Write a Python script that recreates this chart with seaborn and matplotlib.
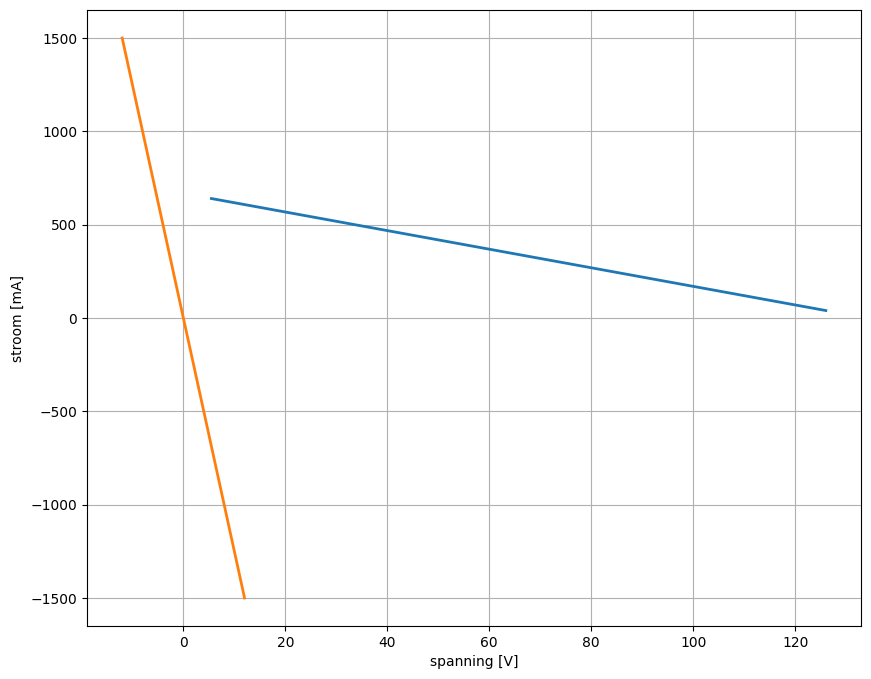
import numpy as np
import pandas as pd
import matplotlib
matplotlib.use('Agg')
import matplotlib.pyplot as plt
import seaborn as sns

# data
spanning_blauw = [5.5, 126.0]
stroom_blauw = [640, 40]
spanning_oranje = [-12.0, 12.0]
stroom_oranje = [1500, -1500]

df_blauw = pd.DataFrame({'spanning': spanning_blauw, 'stroom': stroom_blauw})
df_oranje = pd.DataFrame({'spanning': spanning_oranje, 'stroom': stroom_oranje})

fig = plt.figure(figsize=(8.71, 6.79), dpi=100)
ax = fig.add_axes([87 / 871, 1 - 626 / 679, (861 - 87) / 871, (626 - 10) / 679])

sns.lineplot(data=df_blauw, x='spanning', y='stroom', color='#1f77b4', lw=2,
             sort=False, estimator=None, ax=ax)
sns.lineplot(data=df_oranje, x='spanning', y='stroom', color='#ff7f0e', lw=2,
             sort=False, estimator=None, ax=ax)

ax.set_xlabel('spanning [V]')
ax.set_ylabel('stroom [mA]')
ax.grid(True)
ax.set_axisbelow(True)

fig.savefig('out.png', dpi=100)
